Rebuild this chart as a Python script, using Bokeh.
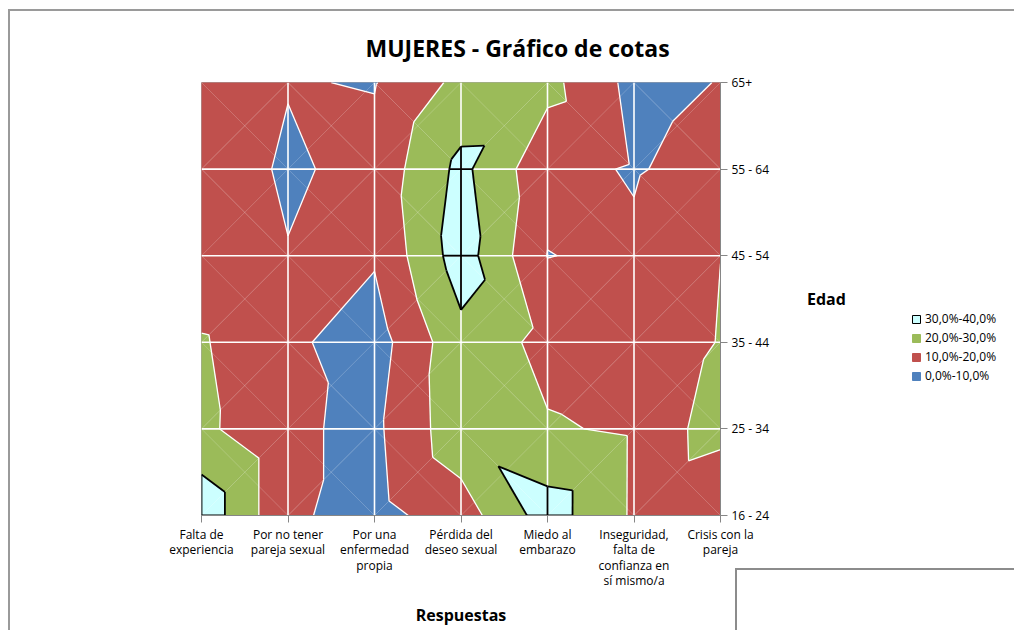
import numpy as np
from bokeh.plotting import figure
from bokeh.layouts import row
from bokeh.models import (Range1d, FixedTicker, Legend, LegendItem, InlineStyleSheet)
from bokeh.embed import file_html
from bokeh.resources import INLINE

# ---------------- data (% of women) ----------------
categories = ["Falta de\nexperiencia", "Por no tener\npareja sexual",
              "Por una\nenfermedad\npropia", "Pérdida del\ndeseo sexual",
              "Miedo al\nembarazo", "Inseguridad,\nfalta de\nconfianza en\nsí mismo/a",
              "Crisis con la\npareja"]
ages = ["16 - 24", "25 - 34", "35 - 44", "45 - 54", "55 - 64", "65+"]

# values per answer, by age group (16-24 ... 65+)
falta_experiencia = [36.9, 22.3, 20.9, 12.5, 16.6, 15.0]
no_pareja = [11.4, 11.4, 11.75, 10.46, 8.46, 10.5]
enfermedad = [6.66, 8.0, 5.5, 11.0, 13.3, 9.5]
perdida_deseo = [15.2, 26.5, 27.0, 35.0, 32.6, 22.6]
miedo_embarazo = [34.6, 20.9, 17.0, 9.8, 12.8, 23.0]
inseguridad = [18.7, 18.76, 15.5, 11.6, 9.24, 7.0]
crisis_pareja = [17.6, 20.76, 20.3, 19.97, 13.7, 10.33]

band_edges = [0, 10, 20, 30, 40]
band_labels = ["0,0%-10,0%", "10,0%-20,0%", "20,0%-30,0%", "30,0%-40,0%"]
band_colors = ["#4F81BD", "#C0504D", "#9BBB59", "#CCFFFF"]

# ---------------- surface triangulation (Excel-like) ----------------
Z = np.array([falta_experiencia, no_pareja, enfermedad, perdida_deseo,
              miedo_embarazo, inseguridad, crisis_pareja], dtype=float)
NX, NY = Z.shape


def corner(i, j):
    return (float(i), float(j), float(Z[i, j]))


triangles = []
for i in range(NX - 1):
    for j in range(NY - 1):
        bl, br, tl, tr = corner(i, j), corner(i + 1, j), corner(i, j + 1), corner(i + 1, j + 1)
        if bl[2] + tr[2] >= tl[2] + br[2]:
            triangles += [[bl, br, tr], [bl, tr, tl]]
        else:
            triangles += [[bl, br, tl], [tl, br, tr]]


def clip(poly, level, above):
    out = []
    n = len(poly)
    for k in range(n):
        a, b = poly[k], poly[(k + 1) % n]
        ain = a[2] >= level if above else a[2] <= level
        bin_ = b[2] >= level if above else b[2] <= level
        if ain:
            out.append(a)
        if ain != bin_:
            t = (level - a[2]) / (b[2] - a[2])
            out.append((a[0] + t * (b[0] - a[0]), a[1] + t * (b[1] - a[1]), level))
    return out


def level_segment(tri, level):
    pts = []
    for k in range(3):
        a, b = tri[k], tri[(k + 1) % 3]
        if (a[2] - level) * (b[2] - level) < 0:
            t = (level - a[2]) / (b[2] - a[2])
            pts.append((a[0] + t * (b[0] - a[0]), a[1] + t * (b[1] - a[1])))
    return pts if len(pts) == 2 else None


# ---------------- main figure ----------------
p = figure(width=905, height=630, x_range=Range1d(0, NX - 1), y_range=Range1d(0, NY - 1),
           y_axis_location="right", output_backend="svg", toolbar_location=None,
           min_border_left=201, min_border_right=185, min_border_top=82, min_border_bottom=115,
           background_fill_color="white", border_fill_color="white",
           outline_line_color="#a6a6a6", outline_line_width=1)
p.xgrid.visible = False
p.ygrid.visible = False

# title
p.title.text = "MUJERES - Gráfico de cotas"
p.title.text_font = "Open Sans"
p.title.text_font_style = "bold"
p.title.text_font_size = "23px"
p.title.text_color = "#000000"
p.title.align = "left"
p.title.offset = 164
p.title.standoff = 37

# filled bands
for b in range(len(band_colors)):
    lo, hi = band_edges[b], band_edges[b + 1]
    pxs, pys = [], []
    for tri in triangles:
        poly = clip(clip(tri, lo, True), hi, False)
        if len(poly) >= 3:
            pxs.append([v[0] for v in poly])
            pys.append([v[1] for v in poly])
    p.patches(xs=pxs, ys=pys, fill_color=band_colors[b], line_color=band_colors[b],
              line_width=0.6)

# faint cell diagonals
dxs, dys = [], []
for i in range(NX - 1):
    for j in range(NY - 1):
        dxs += [[i, i + 1], [i, i + 1]]
        dys += [[j, j + 1], [j + 1, j]]
p.multi_line(xs=dxs, ys=dys, line_color="white", line_alpha=0.25, line_width=0.8)

# contour lines 10 % and 20 % (white)
cxs, cys = [], []
for lev in band_edges[1:3]:
    for tri in triangles:
        s = level_segment(tri, lev)
        if s:
            cxs.append([s[0][0], s[1][0]])
            cys.append([s[0][1], s[1][1]])
p.multi_line(xs=cxs, ys=cys, line_color="white", line_width=1.3)

# gridlines (white)
gxs, gys = [], []
for i in range(1, NX - 1):
    gxs.append([i, i]); gys.append([0, NY - 1])
for j in range(1, NY - 1):
    gxs.append([0, NX - 1]); gys.append([j, j])
p.multi_line(xs=gxs, ys=gys, line_color="white", line_width=1.6)

# outline of the 30-40 % band (black): level line + cell edges inside the band
top = band_edges[3]
kxs, kys = [], []
for tri in triangles:
    s = level_segment(tri, top)
    if s:
        kxs.append([s[0][0], s[1][0]])
        kys.append([s[0][1], s[1][1]])
edges = []
for i in range(NX):
    for j in range(NY):
        if i + 1 < NX:
            edges.append((corner(i, j), corner(i + 1, j)))
        if j + 1 < NY:
            edges.append((corner(i, j), corner(i, j + 1)))
for a, b in edges:
    poly = clip([a, b], top, True)
    if len(poly) >= 2:
        kxs.append([poly[0][0], poly[1][0]])
        kys.append([poly[0][1], poly[1][1]])
p.multi_line(xs=kxs, ys=kys, line_color="black", line_width=1.8)

# ---------------- axes ----------------
xa = p.xaxis[0]
xa.ticker = FixedTicker(ticks=list(range(NX)))
xa.major_label_overrides = {i: c for i, c in enumerate(categories)}
ya = p.yaxis[0]
ya.ticker = FixedTicker(ticks=list(range(NY)))
ya.major_label_overrides = {j: a for j, a in enumerate(ages)}
for ax in (xa, ya):
    ax.axis_line_color = "#868686"
    ax.major_tick_line_color = "#868686"
    ax.minor_tick_line_color = None
    ax.major_tick_in = 0
    ax.major_tick_out = 7
    ax.major_label_text_font = "Open Sans"
    ax.major_label_text_font_size = "12px"
    ax.major_label_text_color = "#000000"
    ax.axis_label_text_font = "Open Sans"
    ax.axis_label_text_font_style = "bold"
    ax.axis_label_text_font_size = "16px"
    ax.axis_label_text_color = "#000000"
xa.major_label_standoff = 3
xa.major_label_text_line_height = 0.92
xa.axis_label = "Respuestas"
xa.axis_label_standoff = 12
ya.major_label_standoff = 4
ya.axis_label = "Edad"
ya.axis_label_orientation = "horizontal"
ya.axis_label_standoff = 35

# ---------------- legend panel (separate small figure to the right) ----------------
leg = figure(width=109, height=630, x_range=Range1d(0, 1), y_range=Range1d(0, 1),
             output_backend="svg", toolbar_location=None, min_border=0,
             x_axis_location=None, y_axis_location=None, outline_line_color=None,
             background_fill_color=None, border_fill_color=None)
leg.grid.visible = False
items = []
for b in reversed(range(len(band_colors))):
    lr = leg.quad(left=[5], right=[6], top=[6], bottom=[5], fill_color=band_colors[b],
                  line_color="black" if b == 3 else band_colors[b], line_width=1)
    items.append(LegendItem(label=band_labels[b], renderers=[lr]))
legend = Legend(items=items, location=(6, 131), orientation="vertical",
                glyph_width=10, glyph_height=10, label_height=16, spacing=2,
                padding=0, margin=0, label_standoff=4,
                label_text_font="Open Sans", label_text_font_size="12px",
                label_text_color="#000000",
                border_line_color=None, background_fill_alpha=0)
leg.add_layout(legend)

layout = row(p, leg, spacing=0)
# chart-area border and the neighbouring box (page decoration)
layout.stylesheets = [InlineStyleSheet(css="""
:host { position: relative; }
:host::before { content: ""; position: absolute; left: 8px; top: 9px; width: 1006px; height: 621px;
  border-top: 2px solid #9a9a9a; border-left: 2px solid #9a9a9a; box-sizing: border-box;
  z-index: 10; pointer-events: none; }
:host::after { content: ""; position: absolute; left: 735px; top: 568px; width: 279px; height: 62px;
  border-top: 2px solid #8c8c8c; border-left: 2px solid #8c8c8c; box-sizing: border-box;
  z-index: 10; pointer-events: none; }
""")]

with open("out.html", "w", encoding="utf-8") as f:
    f.write(file_html(layout, INLINE))
